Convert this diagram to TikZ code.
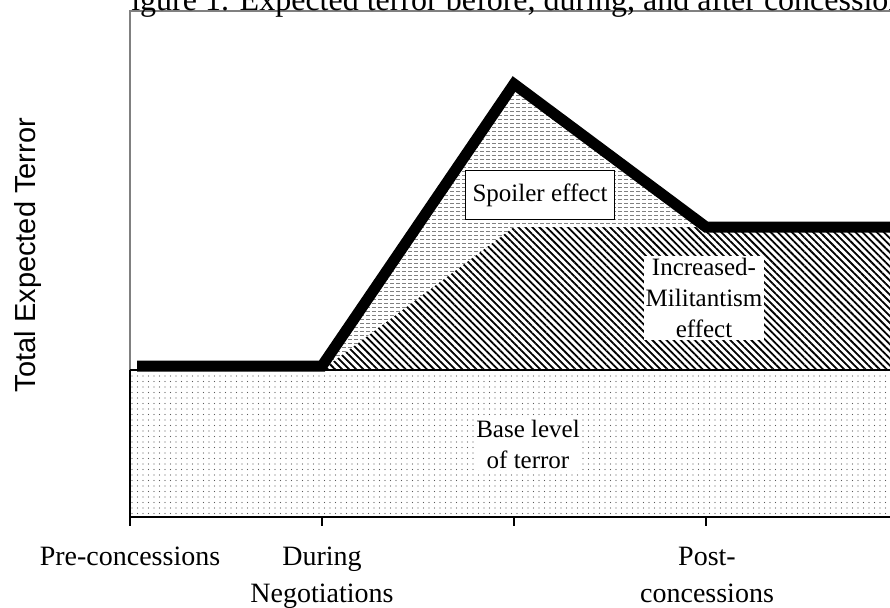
\documentclass[tikz,border=0pt]{standalone}
\usepackage{fontspec}
\setmainfont{Liberation Serif}
\newfontfamily\axisfont{Liberation Sans}
\usetikzlibrary{patterns,patterns.meta}

\tikzdeclarepattern{
  name=basedots,
  type=uncolored,
  bottom left={(-1pt,-1pt)},
  top right={(1pt,1pt)},
  tile size={(5.5pt,5.5pt)},
  code={\fill (0pt,0pt) circle (0.65pt);}
}
\tikzdeclarepattern{
  name=spoilerdash,
  type=uncolored,
  bottom left={(0pt,-0.5pt)},
  top right={(6pt,0.5pt)},
  tile size={(6pt,4pt)},
  code={\fill (0pt,-0.45pt) rectangle (4pt,0.45pt);}
}

\begin{document}
\begin{tikzpicture}[x=1pt,y=-1pt,
  effectbox/.style={fill=white, inner sep=2pt, align=center, font=\fontsize{25}{31}\selectfont},
  ticklabel/.style={align=center, anchor=base, font=\fontsize{28}{37}\selectfont},
  terror/.style={line width=11pt}]
\useasboundingbox (0,0) rectangle (890,607);
\clip (0,0) rectangle (890,607);

% corners of the curve
\coordinate (start) at (137,366);
\coordinate (open) at (322,366);
\coordinate (peak) at (514,84);
\coordinate (settle) at (706,227);
\coordinate (stop) at (896,227);

% plot area
\path[draw=gray, line width=2pt] (130,517) -- (130,11) -- (896,11);

% base level
\path[pattern={basedots}, pattern color=gray!70!black] (130,370) rectangle (896,517);
% increased militantism
\path[pattern={Lines[angle=-45,distance=5pt,line width=1.8pt]}, pattern color=black]
  (322,370) -- (514,227) -- (896,227) -- (896,370) -- cycle;
% spoiler
\path[pattern={spoilerdash}, pattern color=gray]
  (322,370) -- (peak) -- (settle) -- (514,227) -- cycle;

\path[draw, line width=2pt] (130,370) -- (896,370);
\path[draw, line width=1.5pt] (130,370) -- (130,517);
\path[draw, line width=2.5pt] (130,517) -- (896,517);
\foreach \x in {130,322,514,706}
  \path[draw, line width=2pt] (\x,517) -- (\x,526);

\path[draw, terror] (start) -- (open) -- (peak) -- (settle) -- (stop);

\node[effectbox, draw, line width=1.5pt, minimum width=149pt, minimum height=49pt] (spoiler) at (540,195) {Spoiler effect};
\node[effectbox] (militancy) at (704,298) {Increased-\\Militantism\\effect};
\node[effectbox] (base) at (528,444) {Base level\\of terror};

\node[ticklabel] (pre) at (130,565) {Pre-concessions};
\node[ticklabel] (during) at (322,602) {During\\Negotiations};
\node[ticklabel] (post) at (707,602) {Post-\\concessions};

\node[rotate=90, anchor=base, font=\axisfont\fontsize{29}{34}\selectfont] (ylabel) at (35,255) {Total Expected Terror};

\begin{scope}
\clip (128,0) rectangle (890,607);
\node[anchor=base west, font=\fontsize{32}{36}\selectfont] (title) at (110,11) {Figure 1. Expected terror before, during, and after concessions};
\end{scope}
\end{tikzpicture}
\end{document}
